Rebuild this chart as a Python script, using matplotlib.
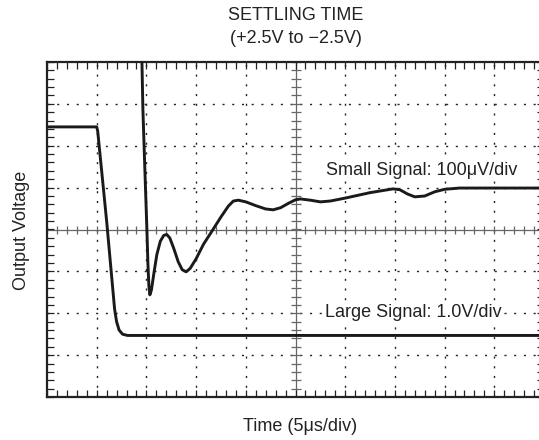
import numpy as np
import matplotlib
matplotlib.use('Agg')
import matplotlib.pyplot as plt

plt.rcParams['font.family'] = ['Liberation Sans', 'DejaVu Sans']

# scope screen: 10 x 8 divisions, centre at (5, 0)
n_xdiv = 10
n_ydiv = 8

# large signal step (+2.5V -> -2.5V), read in divisions
large_t = [0.0, 1.0, 1.02, 1.20, 1.36, 1.40, 1.45, 1.52, 1.62, 10.0]
large_v = [2.45, 2.45, 2.35, 0.2, -1.9, -2.2, -2.40, -2.50, -2.53, -2.53]

# small signal settling (100uV/div), read in divisions
small_t = [1.905, 1.93, 1.97, 2.01, 2.03, 2.05, 2.07, 2.10, 2.15, 2.21, 2.28, 2.35,
           2.41, 2.47, 2.55, 2.64, 2.72, 2.80, 2.88, 3.00, 3.15, 3.34, 3.50, 3.65,
           3.75, 3.85, 4.00, 4.20, 4.40, 4.55, 4.70, 4.85, 5.00, 5.10, 5.30, 5.50,
           5.70, 6.00, 6.50, 6.96, 7.10, 7.25, 7.40, 7.60, 7.80, 8.00, 8.30, 10.0]
small_v = [4.3, 2.85, 1.4, 0.0, -0.8, -1.35, -1.56, -1.45, -1.05, -0.6, -0.28, -0.14,
           -0.12, -0.2, -0.45, -0.77, -0.96, -1.01, -0.93, -0.7, -0.35, 0.0, 0.3, 0.56,
           0.68, 0.70, 0.66, 0.57, 0.49, 0.47, 0.52, 0.62, 0.71, 0.73, 0.70, 0.66,
           0.68, 0.75, 0.88, 0.97, 0.95, 0.85, 0.78, 0.80, 0.90, 0.96, 0.99, 0.99]

fig = plt.figure(figsize=(5.39, 4.40), dpi=100)
ax = fig.add_axes([47 / 539, 43 / 440, 497 / 539, 335 / 440])
ax.set_xlim(0, n_xdiv)
ax.set_ylim(-n_ydiv / 2, n_ydiv / 2)

# dotted graticule
for x in range(1, n_xdiv):
    if x != n_xdiv // 2:
        ax.axvline(x, color='#222222', lw=1.0, linestyle=(0, (1.5, 5.5)), zorder=1)
for y in range(-n_ydiv // 2 + 1, n_ydiv // 2):
    if y != 0:
        ax.axhline(y, color='#222222', lw=1.0, linestyle=(0, (1.5, 5.5)), zorder=1)

# centre crosshair with sub-division marks
ax.axhline(0, color='#666666', lw=0.9, zorder=1)
ax.axvline(n_xdiv / 2, color='#666666', lw=0.9, zorder=1)
sub_x = np.arange(0, n_xdiv + 0.01, 0.2)
sub_y = np.arange(-n_ydiv / 2, n_ydiv / 2 + 0.01, 0.2)
ax.plot(sub_x, np.zeros_like(sub_x), ls='none', marker='|', ms=6, mew=0.9,
        color='#666666', zorder=1)
ax.plot(np.full_like(sub_y, n_xdiv / 2), sub_y, ls='none', marker='_', ms=7, mew=0.9,
        color='#666666', zorder=1)

# edge ticks
ax.set_xticks(sub_x)
ax.set_yticks(sub_y)
ax.tick_params(direction='in', length=5, width=0.9, top=True, right=True,
               labelbottom=False, labelleft=False, color='#222222')
for s in ax.spines.values():
    s.set_linewidth(1.6)
    s.set_color('#222222')

# traces
ax.plot(large_t, large_v, color='#1a1a1a', lw=2.1, zorder=3, solid_joinstyle='round')
ax.plot(small_t, small_v, color='#1a1a1a', lw=2.1, zorder=3, solid_joinstyle='round')

fs = 13
box = dict(facecolor='white', edgecolor='none', pad=1.5)
ax.text(5.61, 1.30, 'Small Signal: 100\u03bcV/div', fontsize=fs, va='baseline', ha='left',
        color='#222222', bbox=box, zorder=2)
ax.text(5.59, -2.09, 'Large Signal: 1.0V/div', fontsize=fs, va='baseline', ha='left',
        color='#222222', bbox=box, zorder=2)

fig.text(296 / 539, 1 - 20 / 440, 'SETTLING TIME', fontsize=fs, ha='center', va='baseline',
         color='#222222')
fig.text(296 / 539, 1 - 43 / 440, '(+2.5V to \u22122.5V)', fontsize=fs, ha='center',
         va='baseline', color='#222222')
fig.text(22 / 539, 1 - 230 / 440, 'Output Voltage', fontsize=fs, rotation=90,
         ha='center', va='center', color='#222222')
fig.text(300 / 539, 1 - 431 / 440, 'Time (5\u03bcs/div)', fontsize=fs, ha='center',
         va='baseline', color='#222222')

fig.savefig('out.png', dpi=100)
